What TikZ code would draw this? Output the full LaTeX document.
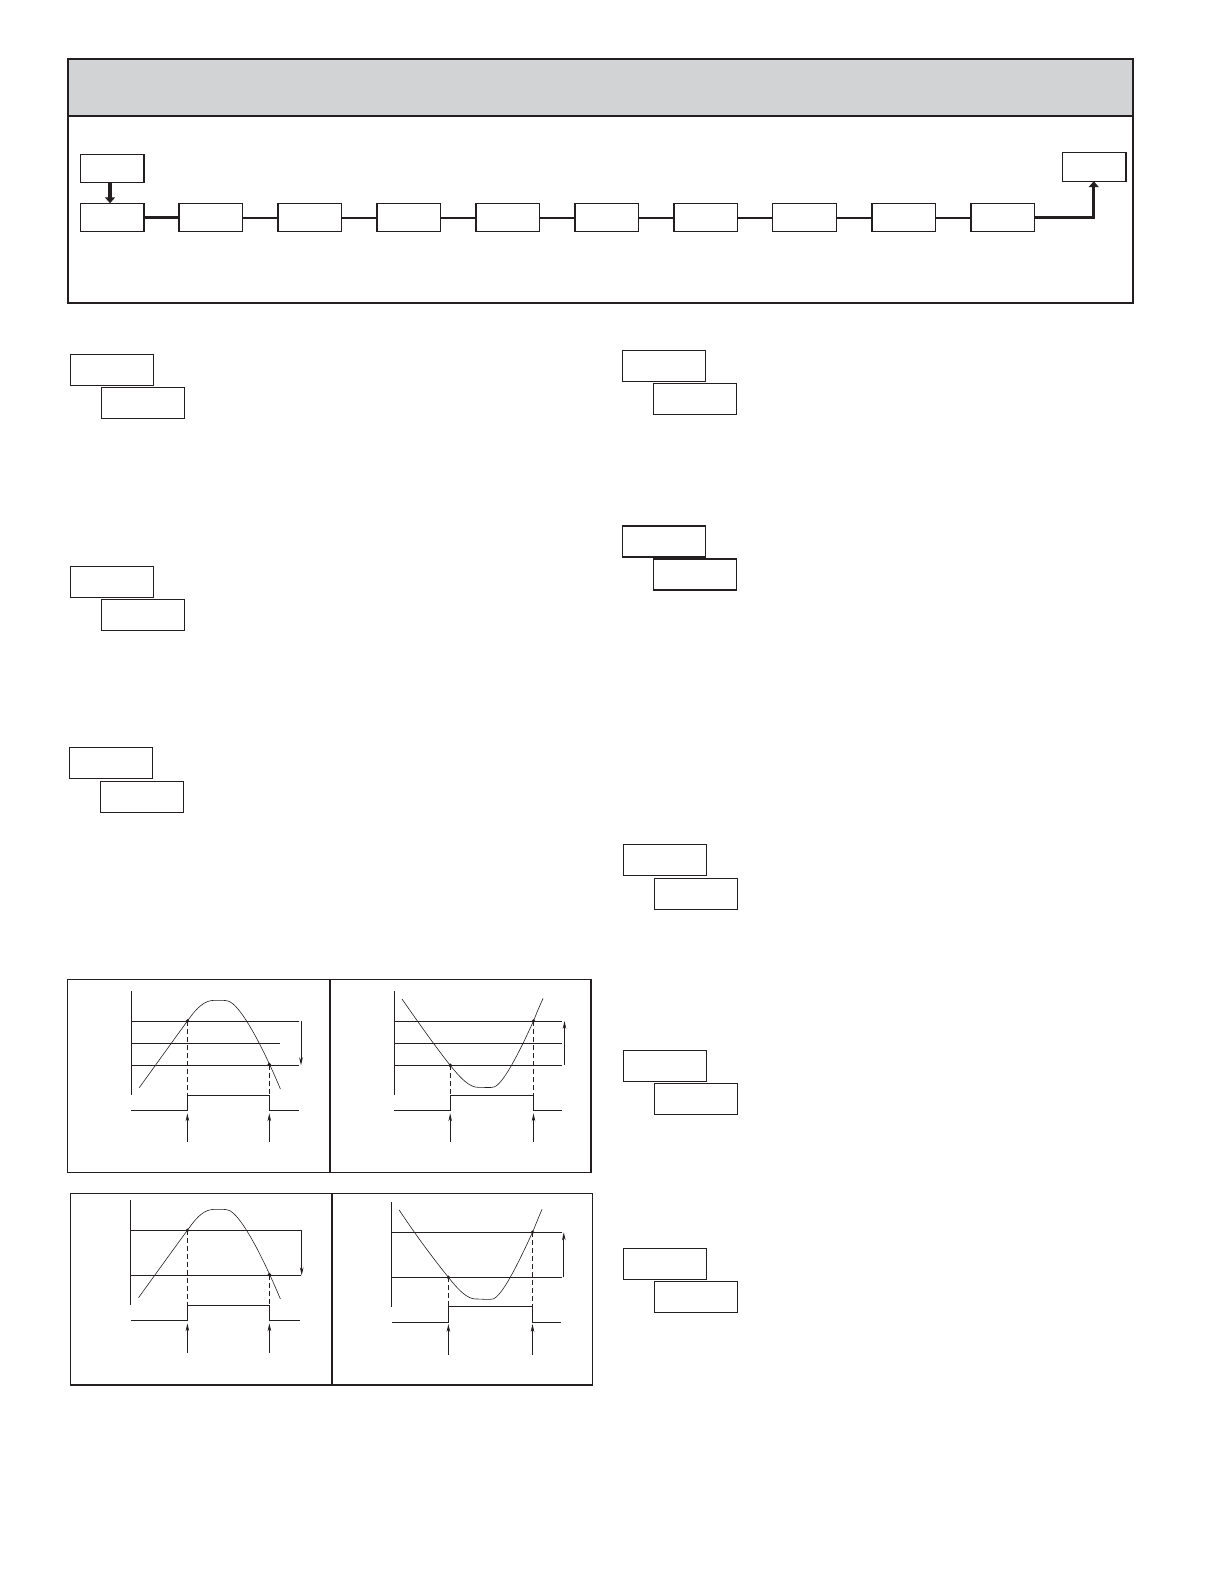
\documentclass[tikz,border=0pt]{standalone}
\usetikzlibrary{arrows.meta}
\definecolor{ink}{HTML}{231F20}
\definecolor{headgray}{HTML}{D1D3D4}
\begin{document}
\begin{tikzpicture}[x=1pt,y=-1pt,
  frameline/.style={draw=ink,line width=2.4pt},
  fbox/.style={draw=ink,line width=1.3pt,minimum width=63.5pt,minimum height=28.4pt,inner sep=0pt,outer sep=0pt,anchor=north west},
  pbox/.style={draw=ink,line width=1.5pt,minimum width=83pt,minimum height=31pt,inner sep=0pt,outer sep=0pt,anchor=north west},
  link/.style={draw=ink,line width=2pt},
  biglink/.style={draw=ink,line width=3.2pt},
  flowarrow/.style={draw=ink,line width=3.2pt,-{Triangle[length=6pt,width=10pt]}},
  panel/.style={draw=ink,line width=1.4pt},
  axisline/.style={draw=ink,line width=1pt},
  level/.style={draw=ink,line width=0.9pt},
  wave/.style={draw=ink,line width=0.6pt},
  dropline/.style={draw=ink,line width=0.8pt,dash pattern=on 5pt off 3pt},
  pulse/.style={draw=ink,line width=1pt},
  marker/.style={draw=ink,line width=0.8pt,-{Stealth[length=8pt,width=3.6pt]}},
  dot/.style={fill=ink}
]
\useasboundingbox (0,0) rectangle (1224,1584);

% ---------- top frame ----------
\fill[headgray] (68,59) rectangle (1133,116);
\draw[frameline] (68,59) rectangle (1133,303);
\draw[frameline] (68,116) -- (1133,116);

% flow boxes
\node[fbox] (top) at (80.5,154.3) {};
\node[fbox] (b1) at (80.5,203.3) {};
\node[fbox] (b2) at (179,203.3) {};
\node[fbox] (b3) at (278,203.3) {};
\node[fbox] (b4) at (377,203.3) {};
\node[fbox] (b5) at (476,203.3) {};
\node[fbox] (b6) at (575,203.3) {};
\node[fbox] (b7) at (674,203.3) {};
\node[fbox] (b8) at (772.8,203.3) {};
\node[fbox] (b9) at (872,203.3) {};
\node[fbox] (b10) at (971,203.3) {};
\node[fbox] (end) at (1062.5,152.8) {};

\draw[flowarrow] ([xshift=-2.2pt]top.south) -- ([xshift=-2.2pt]b1.north);
\draw[biglink] (b1.east) -- (b2.west);
\draw[link] (b2.east) -- (b3.west);
\draw[link] (b3.east) -- (b4.west);
\draw[link] (b4.east) -- (b5.west);
\draw[link] (b5.east) -- (b6.west);
\draw[link] (b6.east) -- (b7.west);
\draw[link] (b7.east) -- (b8.west);
\draw[link] (b8.east) -- (b9.west);
\draw[link] (b9.east) -- (b10.west);
\draw[flowarrow] (b10.east) -| ([xshift=-0.5pt]end.south);

% ---------- parameter box pairs ----------
\node[pbox] (l1a) at (70.3,354.3) {};
\node[pbox] (l1b) at (101.3,387.3) {};
\node[pbox] (l2a) at (70.3,566.5) {};
\node[pbox] (l2b) at (101.3,599.5) {};
\node[pbox] (l3a) at (69.3,747.3) {};
\node[pbox] (l3b) at (100.3,781.3) {};

\node[pbox] (r1a) at (622.3,350.3) {};
\node[pbox] (r1b) at (653.3,383.3) {};
\node[pbox] (r2a) at (622.3,525.8) {};
\node[pbox] (r2b) at (653.3,558.8) {};
\node[pbox] (r3a) at (623.3,844.3) {};
\node[pbox] (r3b) at (654.3,878.3) {};
\node[pbox] (r4a) at (623.3,1050.3) {};
\node[pbox] (r4b) at (654.3,1083.3) {};
\node[pbox] (r5a) at (623.3,1248.3) {};
\node[pbox] (r5b) at (654.3,1281.3) {};

% ---------- graph panels ----------
\draw[panel] (67.6,979.3) rectangle (591,1172.5);
\draw[panel] (330,979.3) -- (330,1172.5);
\draw[panel] (70.3,1193.3) rectangle (592.5,1385);
\draw[panel] (332,1193.3) -- (332,1385);

% top-left graph
\draw[axisline] (131.3,991) -- (131.3,1095);
\draw[level] (131.3,1021) -- (298.6,1021);
\draw[level] (131.3,1043.3) -- (279.7,1043.3);
\draw[level] (131.3,1065.3) -- (298.6,1065.3);
\draw[marker] (301,1021) -- (301,1065.3);
\draw[wave] (139.2,1087.7) .. controls (155,1066) and (175,1038) .. (187.4,1021)
  .. controls (198,1006) and (205,1000.3) .. (215,1000.3)
  .. controls (222,1000.3) and (225,1000.2) .. (228,1001)
  .. controls (240,1004) and (262,1045) .. (280.4,1089);
\fill[dot] (187.4,1021) circle (1.9);
\fill[dot] (269.3,1064.5) circle (1.9);
\draw[dropline] (187.4,1021) -- (187.4,1095);
\draw[dropline] (269.3,1064.5) -- (269.3,1095);
\draw[pulse] (131.3,1110) -- (187.4,1110) -- (187.4,1095) -- (269.3,1095) -- (269.3,1110) -- (298.6,1110);
\draw[marker] (187.4,1141.7) -- (187.4,1113.3);
\draw[marker] (269.3,1141.7) -- (269.3,1113.3);

% top-right graph
\draw[axisline] (394,991) -- (394,1095);
\draw[level] (394,1021) -- (561.7,1021);
\draw[level] (394,1043.3) -- (561.7,1043.3);
\draw[level] (394,1065.3) -- (561.7,1065.3);
\draw[marker] (564.5,1065.3) -- (564.5,1021);
\draw[wave] (402,999) .. controls (420,1025) and (438,1050) .. (450.2,1065.3)
  .. controls (462,1080) and (470,1087.3) .. (478,1087.3)
  .. controls (486,1087.3) and (490,1088) .. (494,1087)
  .. controls (503,1084) and (518,1055) .. (533.5,1021)
  .. controls (537,1012) and (540,1005) .. (543.1,998.3);
\fill[dot] (450.2,1065.3) circle (1.9);
\fill[dot] (533.5,1021) circle (1.9);
\draw[dropline] (450.2,1065.3) -- (450.2,1095);
\draw[dropline] (533.5,1021) -- (533.5,1095);
\draw[pulse] (394,1110) -- (450.2,1110) -- (450.2,1095) -- (533.5,1095) -- (533.5,1110) -- (561.7,1110);
\draw[marker] (450.2,1141.7) -- (450.2,1113.3);
\draw[marker] (533.5,1141.7) -- (533.5,1113.3);

% bottom-left graph
\draw[axisline] (130.6,1200) -- (130.6,1305);
\draw[level] (130.6,1230.3) -- (301,1230.3);
\draw[level] (130.6,1275.3) -- (301,1275.3);
\draw[marker] (301.7,1230.3) -- (301.7,1275.3);
\draw[wave] (138.5,1297.7) .. controls (155,1275) and (175,1247) .. (187.4,1230.3)
  .. controls (198,1215) and (205,1209.3) .. (215,1209.3)
  .. controls (222,1209.3) and (225,1209.2) .. (228,1210)
  .. controls (240,1213) and (262,1255) .. (280.4,1299);
\fill[dot] (187.4,1230.3) circle (1.9);
\fill[dot] (269.4,1274.6) circle (1.9);
\draw[dropline] (187.4,1230.3) -- (187.4,1305);
\draw[dropline] (269.4,1274.6) -- (269.4,1305);
\draw[pulse] (130.6,1320.3) -- (187.4,1320.3) -- (187.4,1305) -- (269.4,1305) -- (269.4,1320.3) -- (300,1320.3);
\draw[marker] (187.4,1352.7) -- (187.4,1323.3);
\draw[marker] (269.4,1352.7) -- (269.4,1323.3);

% bottom-right graph
\draw[axisline] (391.6,1201.7) -- (391.6,1306.7);
\draw[level] (391.6,1232.3) -- (561.7,1232.3);
\draw[level] (391.6,1277.3) -- (561.7,1277.3);
\draw[marker] (563.8,1277.3) -- (563.8,1232.3);
\draw[wave] (399.2,1210) .. controls (417,1237) and (436,1262) .. (448.4,1277.3)
  .. controls (460,1292) and (468,1299) .. (476,1299)
  .. controls (484,1299) and (488,1300) .. (493,1299)
  .. controls (502,1296) and (517,1266) .. (532.5,1232.3)
  .. controls (536,1224) and (539,1216) .. (542.1,1209.3);
\fill[dot] (448.4,1277.3) circle (1.9);
\fill[dot] (532.5,1232.3) circle (1.9);
\draw[dropline] (448.4,1277.3) -- (448.4,1306.7);
\draw[dropline] (532.5,1232.3) -- (532.5,1306.7);
\draw[pulse] (391.6,1322.3) -- (448.4,1322.3) -- (448.4,1306.7) -- (532.5,1306.7) -- (532.5,1322.3) -- (561,1322.3);
\draw[marker] (448.4,1355) -- (448.4,1324);
\draw[marker] (532.5,1355) -- (532.5,1324);
\end{tikzpicture}
\end{document}
